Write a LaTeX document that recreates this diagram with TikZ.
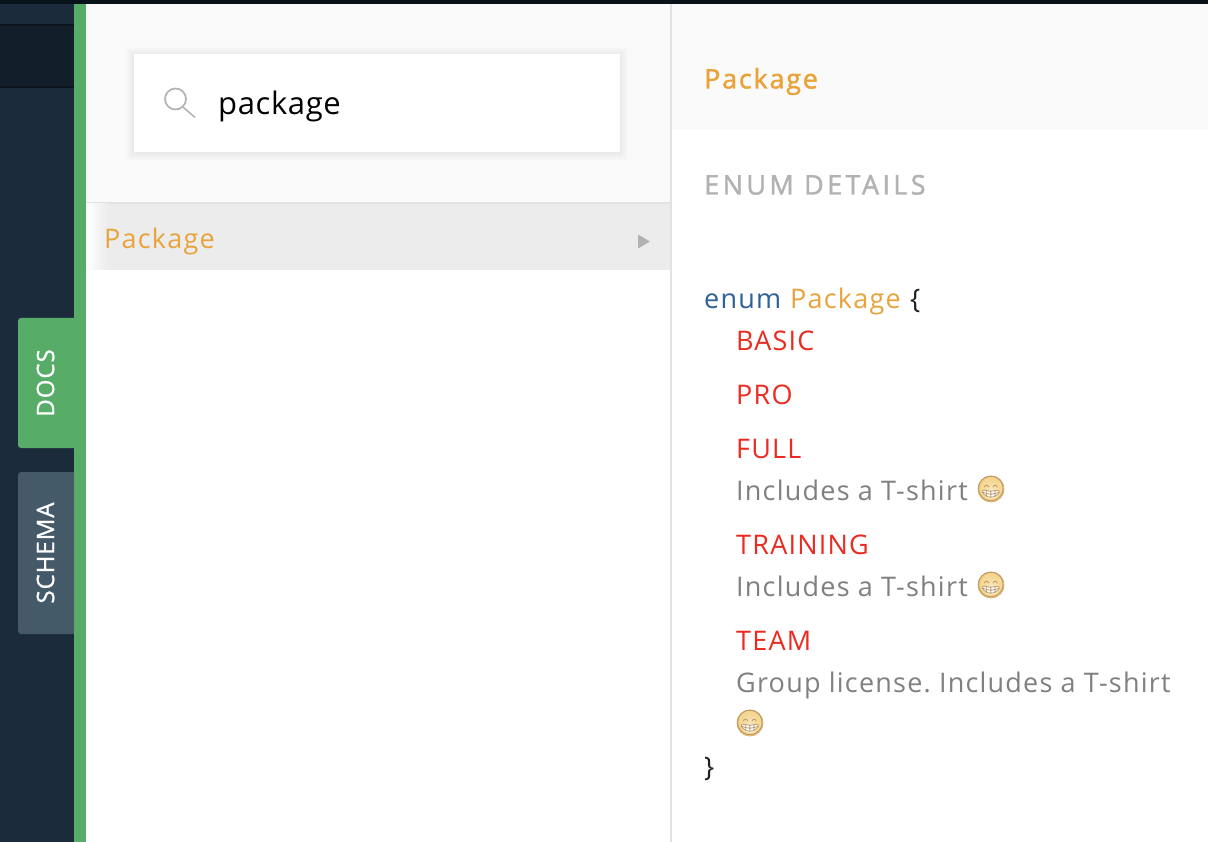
\documentclass[tikz,border=0pt]{standalone}
\usepackage{fontspec}
\setmainfont{Open Sans}[LetterSpace=4.5]
\newfontfamily\emojifont{Noto Emoji}
\newfontfamily\semibase{Open Sans}[LetterSpace=6.5,FakeBold=1.5]
\newfontfamily\semiwide{Open Sans}[LetterSpace=12.5,FakeBold=1.5]
\newfontfamily\semitab{Open Sans}[LetterSpace=4,FakeBold=1]
\newfontfamily\plainsans{Open Sans}[LetterSpace=2]
\definecolor{navy}{HTML}{1B2B3B}
\definecolor{navydark}{HTML}{121F2B}
\definecolor{navyline}{HTML}{0C151E}
\definecolor{topbar}{HTML}{08121B}
\definecolor{docgreen}{HTML}{57AC68}
\definecolor{schemagrey}{HTML}{445A68}
\definecolor{panel}{HTML}{FAFAFA}
\definecolor{rowgrey}{HTML}{ECECEC}
\definecolor{rule}{HTML}{E2E2E2}
\definecolor{typeorange}{HTML}{E9A33B}
\definecolor{keyblue}{HTML}{2E6197}
\definecolor{enumred}{HTML}{EA2B20}
\definecolor{descgrey}{HTML}{808080}
\definecolor{headgrey}{HTML}{B2B2B2}
\definecolor{emojiface}{HTML}{F3D388}
\definecolor{emojiedge}{HTML}{E8B878}
\tikzset{
  txt/.style={inner sep=0pt,anchor=base west,font=\frenchspacing\fontsize{27}{32}\selectfont},
  typename/.style={txt,text=typeorange},
  enumval/.style={txt,text=enumred},
  desc/.style={txt,text=descgrey},
  tabtext/.style={inner sep=0pt,rotate=90,text=white,font=\semitab\fontsize{24}{28}\selectfont},
  grin/.style={inner sep=0pt,font=\emojifont\fontsize{25}{25}\selectfont,text=emojiedge!80!black},
  shadowlayer/.style={fill=black,fill opacity=.007,rounded corners=3pt},
}
\newcommand{\gface}[2]{%
  \fill[inner color=emojiface!60!white,outer color=emojiface] (#1,#2) circle (13);
  \draw[emojiedge,line width=.8pt] (#1,#2) circle (13);
  \fill[white] (#1-8.5,#2+1) arc[start angle=180,end angle=0,radius=8.5] -- cycle;
}
\begin{document}
\begin{tikzpicture}[x=1pt,y=-1pt]
\useasboundingbox (0,0) rectangle (1208,842);
\fill[white] (0,0) rectangle (1208,842);
% sidebar
\fill[navy] (0,0) rectangle (74,842);
\fill[navydark] (0,25) rectangle (74,87);
\fill[navyline] (0,24) rectangle (74,26.5);
\fill[navyline] (0,86) rectangle (74,88);
\fill[topbar] (0,0) rectangle (1208,4);
% tabs
\fill[docgreen,rounded corners=3pt] (18,318) rectangle (78,448);
\fill[schemagrey,rounded corners=3pt] (18,472) rectangle (78,634);
\fill[docgreen] (74,4) rectangle (86,842);
\node[tabtext] (docs) at (45.5,383) {DOCS};
\node[tabtext] (schema) at (45.5,553) {SCHEMA};
% middle panel
\fill[panel] (86,4) rectangle (670,203);
\fill[rule] (86,202) rectangle (670,204.5);
\fill[rowgrey] (86,204) rectangle (670,270);
\fill[left color=white,right color=rowgrey] (86,204) rectangle (108,270);
\fill[rule] (670,4) rectangle (672,842);
% search box
\foreach \s in {8,7,6,5,4,3,2,1}{
  \fill[shadowlayer] (134-\s,54-\s+1) rectangle (620+\s,152+\s+1);
}
\node[fill=white,minimum width=486pt,minimum height=98pt,inner sep=0pt,anchor=north west] (searchbox) at (134,54) {};
\draw[headgrey,line width=1.7pt] (175.5,99) circle (10.5);
\draw[headgrey,line width=1.5pt] (183,107) -- (195,117.5);
\node[txt,text=black,font=\plainsans\fontsize{31}{36}\selectfont] (query) at (218,115) {package};
% list row
\node[typename] (rowlabel) at (104,248.5) {Package};
\fill[headgrey] (638,234.5) -- (650,241.5) -- (638,248.5) -- cycle;
% right panel
\fill[panel] (672,4) rectangle (1208,130);
\node[typename,font=\semibase\fontsize{27}{32}\selectfont] (title) at (704,88.5) {Package};
\node[txt,text=headgrey,font=\semiwide\fontsize{27}{32}\selectfont] (head) at (704,194.5) {ENUM DETAILS};
\node[txt,text=keyblue] (kw) at (704,308.5) {enum};
\node[typename] (tn) at (790,308.5) {Package};
\node[txt,text=black!88] (ob) at (910,308.5) {\{};
\node[enumval] (basic) at (736,350.5) {BASIC};
\node[enumval] (pro) at (736,404.5) {PRO};
\node[enumval] (full) at (736,458.5) {FULL};
\node[desc] (d1) at (736,500.5) {Includes a T-shirt};
\gface{991}{489}
\node[grin] (e1) at (991,489) {\symbol{"1F601}};
\node[enumval] (training) at (736,554.5) {TRAINING};
\node[desc] (d2) at (736,596.5) {Includes a T-shirt};
\gface{991}{585}
\node[grin] (e2) at (991,585) {\symbol{"1F601}};
\node[enumval] (team) at (736,650.5) {TEAM};
\node[desc] (d3) at (736,692.5) {Group license. Includes a T-shirt};
\gface{750}{723}
\node[grin] (e3) at (750,723) {\symbol{"1F601}};
\node[txt,text=black!88] (cb) at (704,776.5) {\}};
\end{tikzpicture}
\end{document}
